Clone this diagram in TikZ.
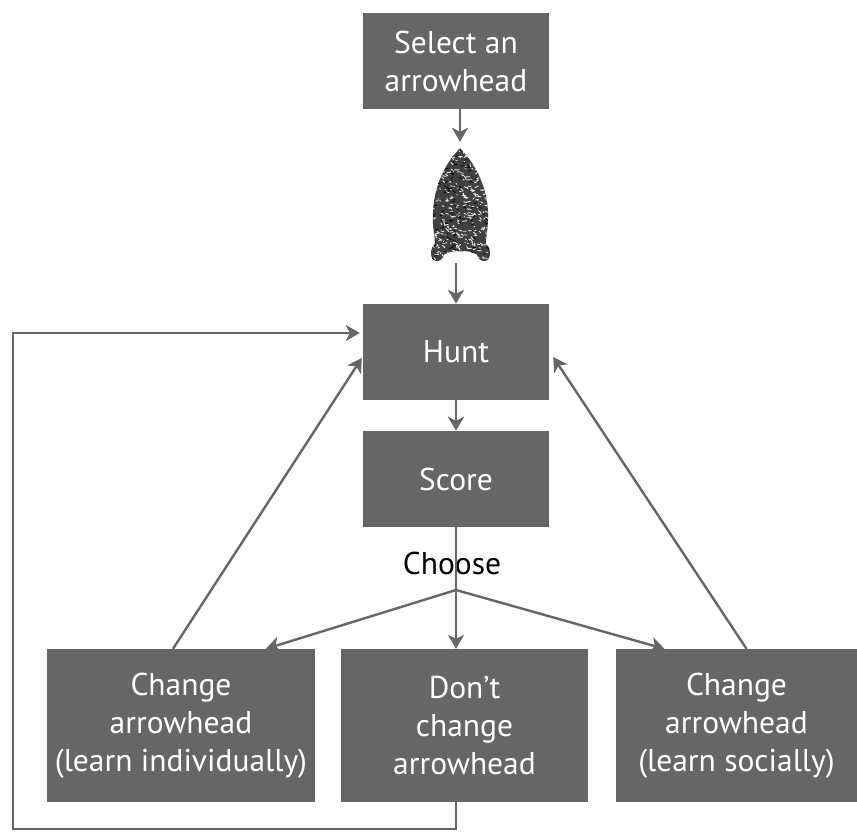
\documentclass[tikz,border=0pt]{standalone}
\usepackage{fontspec}
\setmainfont{PT Sans}
\usetikzlibrary{arrows.meta}
\definecolor{boxgray}{HTML}{666666}
\tikzset{
  stepbox/.style={fill=boxgray, text=white, align=center, inner sep=0pt,
    font=\fontsize{31.5}{38}\selectfont},
  plaintext/.style={text=black, inner sep=0pt, font=\fontsize{31.5}{38}\selectfont},
  arr/.style={draw=boxgray, line width=2.4pt, -{Stealth[length=14pt,width=16pt,inset=4pt]}},
  link/.style={draw=boxgray, line width=2.4pt},
}
\begin{document}
\begin{tikzpicture}[x=1pt,y=-1pt]
        \useasboundingbox (0,0) rectangle (857,832);
        %% boxes
        \node[stepbox, minimum width=186pt, minimum height=96pt] (sel) at (456,61) {Select an\\arrowhead};
        \node[minimum width=60pt, minimum height=121pt, inner sep=0pt] (flint) at (460,202.5) {};
        \node[stepbox, minimum width=186pt, minimum height=96pt] (hunt) at (456,352) {Hunt};
        \node[stepbox, minimum width=186pt, minimum height=96pt] (score) at (456,479) {Score};
        \node[plaintext] (choose) at (452,563) {Choose};
        \coordinate (branch) at (456,590);
        \node[stepbox, minimum width=268pt, minimum height=153pt] (indiv) at (181,725.5) {Change\\arrowhead\\(learn individually)};
        \node[stepbox, minimum width=247pt, minimum height=153pt] (keep) at (464.5,725.5) {Don’t\\change\\arrowhead};
        \node[stepbox, minimum width=241pt, minimum height=153pt] (social) at (736.5,725.5) {Change\\arrowhead\\(learn socially)};
        %% the stone point
        \begin{scope}[shift={(flint.center)}]
          \path[clip] (0,-54) .. controls (13,-42) and (27,-18) .. (28,9.5)
            .. controls (28.5,25) and (26,33) .. (26,41)
            .. controls (31,45) and (32,57) .. (25,58.5)
            .. controls (21,59) and (18,56) .. (17,52)
            .. controls (11,49) and (5,48) .. (1,49)
            .. controls (-4,48) and (-11,49) .. (-16,52)
            .. controls (-17,56) and (-20,59) .. (-24,58.5)
            .. controls (-31,57) and (-30,45) .. (-25,41)
            .. controls (-25,33) and (-28,25) .. (-27,9.5)
            .. controls (-26,-18) and (-13,-42) .. (0,-54) -- cycle;
          \fill[black!75] (-34,-56) rectangle (34,60);
          \pgfmathsetseed{7}
          \foreach \k in {1,...,320}
            \draw[white!90!black, line width=0.9pt, line cap=round]
              (rand*28,rand*56) -- ++(rand*50+15:2.5+rand*2);
          \foreach \k in {1,...,120}
            \draw[black, line width=0.8pt, line cap=round]
              (rand*28,rand*56) -- ++(rand*60:2.5);
        \end{scope}
        %% main chain
        \draw[arr] (sel.south -| flint) -- (flint.north);
        \draw[arr] (flint.south -| hunt) -- (hunt.north);
        \draw[arr] (hunt) -- (score);
        \draw[link] (score.south) -- (branch);
        %% choices
        \draw[arr] (branch) -- ([xshift=85pt]indiv.north);
        \draw[arr] (branch) -- (branch |- keep.north);
        \draw[arr] (branch) -- ([xshift=-72pt]social.north);
        %% back to hunt
        \draw[arr] ([xshift=-8pt]indiv.north) -- ([xshift=-1pt,yshift=-6pt]hunt.west);
        \draw[arr] ([xshift=10pt]social.north) -- ([xshift=4pt,yshift=-5pt]hunt.east);
        \coordinate (loop) at (13,829);
        \draw[arr] (keep.south -| branch) |- (loop) |- ([xshift=-3pt,yshift=19pt]hunt.west);
    \end{tikzpicture}
\end{document}
